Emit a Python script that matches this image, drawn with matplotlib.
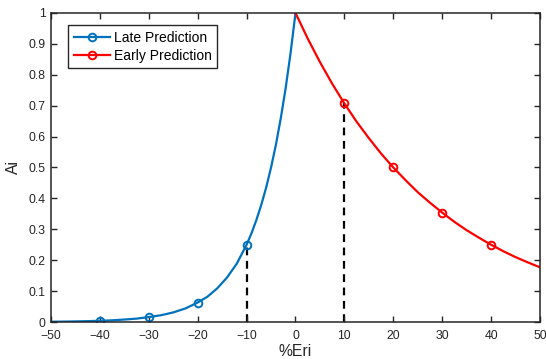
import numpy as np
import matplotlib.pyplot as plt

plt.rcParams['font.family'] = ['Liberation Sans', 'DejaVu Sans']

# values
late_x = [-50, -47.5, -45, -42.5, -40, -37.5, -35, -32.5, -30, -27.5, -25, -22.5,
          -20, -18, -16, -14, -12, -10, -9, -8, -7, -6, -5, -4, -3, -2, -1, 0]
late_y = [0.001, 0.0014, 0.002, 0.0028, 0.004, 0.0055, 0.008, 0.011, 0.016, 0.022,
          0.031, 0.044, 0.063, 0.082, 0.109, 0.144, 0.189, 0.25, 0.287, 0.33, 0.379,
          0.435, 0.5, 0.574, 0.66, 0.758, 0.871, 1.0]
early_x = [0, 2.5, 5, 7.5, 10, 12.5, 15, 17.5, 20, 22.5, 25, 27.5, 30, 32.5, 35,
           37.5, 40, 42.5, 45, 47.5, 50]
early_y = [1.0, 0.917, 0.841, 0.771, 0.707, 0.648, 0.595, 0.545, 0.5, 0.459, 0.42,
           0.386, 0.354, 0.324, 0.297, 0.273, 0.25, 0.229, 0.21, 0.193, 0.177]
late_marks = [-40, -30, -20, -10]
early_marks = [10, 20, 30, 40]
drop_x = [-10, 10]
drop_y = [0.25, 0.707]

dark = '#262626'
fig = plt.figure(figsize=(5.46, 3.59), dpi=100)
ax = fig.add_axes([0.0934, 0.103, 0.8956, 0.861])

ax.plot(late_x, late_y, color='#0072BD', lw=1.6, marker='o', ms=5.5, mfc='none',
        mew=1.4, markevery=[late_x.index(m) for m in late_marks], label='Late Prediction')
ax.plot(early_x, early_y, color='#FF0000', lw=1.6, marker='o', ms=5.5, mfc='none',
        mew=1.4, markevery=[early_x.index(m) for m in early_marks], label='Early Prediction')

# dashed drop lines
for x, y in zip(drop_x, drop_y):
    ax.plot([x, x], [0, y], color='black', lw=1.6, ls=(0, (3.5, 2.5)), zorder=1)

ax.set_xlim(-50, 50)
ax.set_ylim(0, 1)
ax.set_xticks(np.arange(-50, 51, 10))
ax.set_yticks(np.arange(0, 1.01, 0.1))
ax.set_yticklabels(['0', '0.1', '0.2', '0.3', '0.4', '0.5', '0.6', '0.7', '0.8', '0.9', '1'])
ax.tick_params(direction='in', top=True, right=True, labelsize=8.8, colors=dark,
               length=4.5, width=1.0)
ax.tick_params(axis='x', pad=6)
ax.tick_params(axis='y', pad=4)
for s in ax.spines.values():
    s.set_color(dark)
    s.set_linewidth(1.1)

ax.set_xlabel('%Eri', fontsize=11.3, color=dark, labelpad=1)
ax.set_ylabel('Ai', fontsize=11.3, color=dark, labelpad=5)

leg = ax.legend(loc='upper left', bbox_to_anchor=(0.035, 0.961), fontsize=10,
                fancybox=False, edgecolor=dark, framealpha=1, borderpad=0.4,
                handlelength=2.6, handletextpad=0.3, labelspacing=0.3, borderaxespad=0)
leg.get_frame().set_linewidth(1.0)

fig.savefig('out.png', dpi=100)
